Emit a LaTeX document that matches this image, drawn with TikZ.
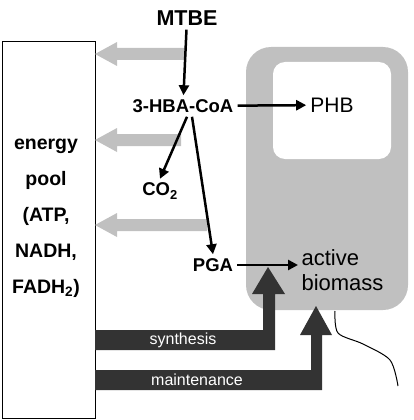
\documentclass[tikz,border=0pt]{standalone}
\usepackage{fontspec}
\setmainfont{Liberation Sans}
\usetikzlibrary{arrows.meta}
\definecolor{lgray}{HTML}{C0C0C0}
\definecolor{dgray}{HTML}{333333}
\tikzset{
  arr/.style={line width=2.5pt,-{Triangle[length=10pt,width=10pt]}},
  lbl/.style={font=\fontsize{18.5}{18.5}\selectfont\bfseries,inner sep=4pt},
  wlbl/.style={font=\fontsize{16}{16}\selectfont,text=white}
}
\begin{document}
\begin{tikzpicture}[x=1pt,y=-1pt]
\useasboundingbox (0,0) rectangle (414,420);
% cell and PHB granule
\fill[lgray,rounded corners=25pt] (246,47) rectangle (408,310);
\fill[white,rounded corners=12pt] (273,62) rectangle (391,159);
\draw[line width=1pt] plot[smooth] coordinates {(335,311) (338,333) (363,344) (390,360) (398,386)};
% energy pool
\draw[line width=1pt] (2,42) rectangle (95,418);
\node[align=center,font=\fontsize{19.5}{36}\selectfont\bfseries] (pool) at (46,218)
  {energy\\pool\\(ATP,\\NADH,\\FADH\textsubscript{2})};
% gray arrows into the pool
\foreach \y/\e in {54/185,140/181,225/207}
  \fill[lgray] (\e,\y-6) -- (117,\y-6) -- (117,\y-12) -- (95,\y) -- (117,\y+12) -- (117,\y+6) -- (\e,\y+6) -- cycle;
% synthesis and maintenance
\fill[dgray] (95,330) -- (263,330) -- (263,294) -- (252,294) -- (268,267) -- (285,294) -- (275,294) -- (275,350) -- (95,350) -- cycle;
\fill[dgray] (95,370) -- (311,370) -- (311,335) -- (300,335) -- (316,306) -- (332,335) -- (322,335) -- (322,390) -- (95,390) -- cycle;
\node[wlbl] (syn) at (183,340) {synthesis};
\node[wlbl] (mnt) at (197,380) {maintenance};
% pathway
\node[lbl,font=\fontsize{21.5}{21.5}\selectfont\bfseries] (mtbe) at (187,18) {MTBE};
\node[lbl] (hba) at (183,106) {3-HBA-CoA};
\node[font=\fontsize{21}{21}\selectfont,inner sep=4pt] (phb) at (332,105) {PHB};
\node[lbl] (co2) at (160,191) {CO\textsubscript{2}};
\node[lbl] (pga) at (213,265) {PGA};
\node[align=left,anchor=west,font=\fontsize{22}{25}\selectfont] (bio) at (298,270) {active\\biomass};
\draw[arr] (mtbe) -- (hba);
\draw[arr] (hba) -- (phb);
\draw[arr] ([xshift=4pt]hba.south) -- (co2.north);
\draw[arr] ([xshift=9pt]hba.south) -- (pga.north);
\draw[arr] (pga) -- (pga -| bio.west);
\end{tikzpicture}
\end{document}
